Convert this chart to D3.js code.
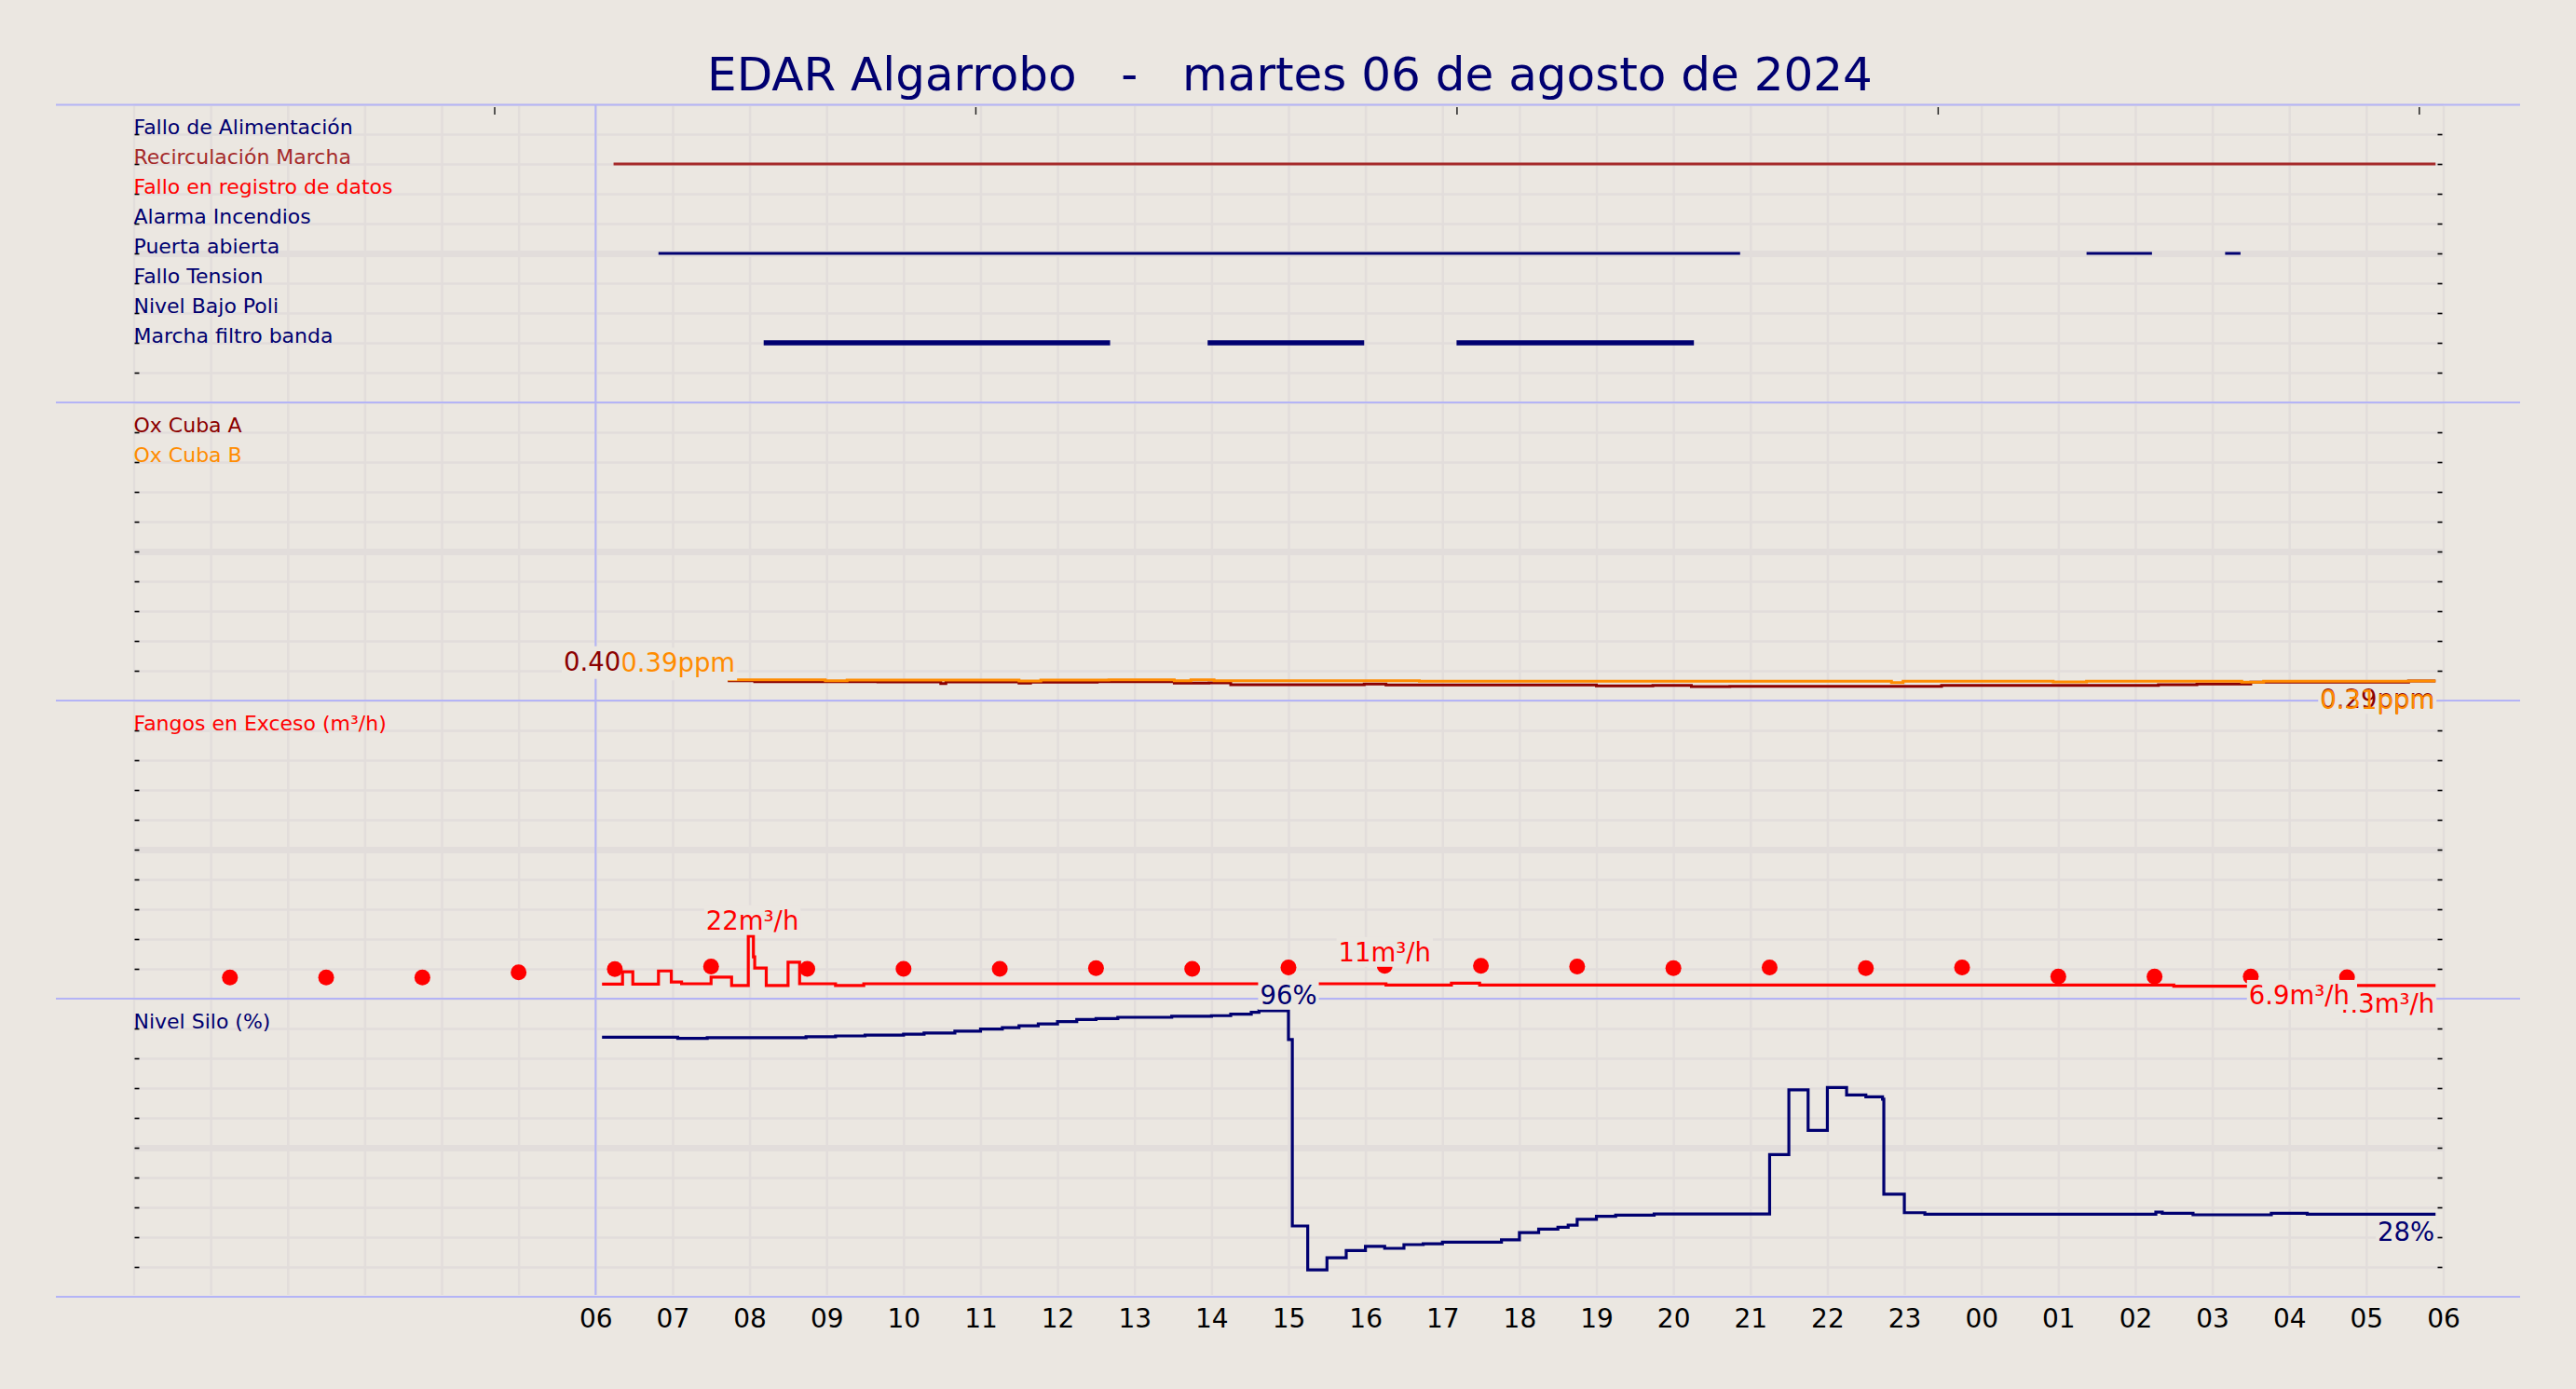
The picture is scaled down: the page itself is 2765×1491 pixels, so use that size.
<!DOCTYPE html>
<html>
<head>
<meta charset="utf-8">
<script src="https://cdn.jsdelivr.net/npm/d3@7"></script>
<style>
  body { margin: 0; background: #ebe7e1; }
  text { font-family: "DejaVu Sans", sans-serif; }
</style>
</head>
<body>
<svg id="chart"></svg>
<script>
// ---- data (times as "HH:MM" counted from 00:00 of 06/08/2024, >24 = next day)
const chartTitle = "EDAR Algarrobo   -   martes 06 de agosto de 2024";

const stateNames = ["Fallo de Alimentación", "Recirculación Marcha", "Fallo en registro de datos",
  "Alarma Incendios", "Puerta abierta", "Fallo Tension", "Nivel Bajo Poli", "Marcha filtro banda"];
const recircOn = [["06:14", "29:54"]];
const puertaOn = [["06:49", "20:52"], ["25:22", "26:13"], ["27:10", "27:22"]];
const filtroOn = [["08:11", "12:41"], ["13:57", "15:59"], ["17:11", "20:16"]];

const oxNames = ["Ox Cuba A", "Ox Cuba B"];
const oxA = [["07:43", 0.367], ["08:04", 0.349], ["09:40", 0.344], ["10:29", 0.315], ["10:33", 0.344],
  ["11:30", 0.321], ["11:39", 0.338], ["12:31", 0.349], ["13:31", 0.321], ["13:58", 0.327],
  ["14:15", 0.292], ["15:59", 0.303], ["16:16", 0.286], ["19:00", 0.269], ["19:44", 0.281],
  ["20:14", 0.258], ["20:44", 0.264], ["23:29", 0.281], ["26:18", 0.292], ["26:48", 0.303],
  ["27:30", 0.338], ["29:33", 0.361], ["29:54", 0.361]];
const oxB = [["07:43", 0.383], ["08:59", 0.366], ["09:16", 0.378], ["11:30", 0.361], ["11:47", 0.378],
  ["12:40", 0.383], ["13:31", 0.366], ["13:44", 0.383], ["14:02", 0.366], ["16:42", 0.355],
  ["22:50", 0.332], ["22:59", 0.355], ["24:56", 0.345], ["25:22", 0.355], ["27:23", 0.338],
  ["27:40", 0.355], ["29:33", 0.361], ["29:54", 0.361]];

const fangosName = "Fangos en Exceso (m³/h)";
const fangos = [["06:05", 4.9], ["06:21", 9.0], ["06:29", 4.9], ["06:49", 9.3], ["06:59", 5.6],
  ["07:07", 5.0], ["07:30", 7.2], ["07:46", 4.4], ["07:59", 21.0], ["08:03", 14.0], ["08:04", 10.3],
  ["08:13", 4.4], ["08:30", 12.2], ["08:39", 5.0], ["09:07", 4.4], ["09:29", 5.0], ["16:16", 4.6],
  ["17:07", 5.2], ["17:29", 4.6], ["26:30", 4.2], ["28:45", 4.4], ["29:54", 4.4]];
const fangosDots = [["01:15", 7.1], ["02:30", 7.1], ["03:45", 7.1], ["05:00", 8.8], ["06:15", 9.9],
  ["07:30", 10.8], ["08:45", 10.0], ["10:00", 10.0], ["11:15", 10.0], ["12:30", 10.2], ["13:45", 10.0],
  ["15:00", 10.5], ["16:15", 11.0], ["17:30", 11.0], ["18:45", 10.8], ["20:00", 10.2], ["21:15", 10.5],
  ["22:30", 10.2], ["23:45", 10.5], ["25:00", 7.4], ["26:15", 7.4], ["27:30", 7.4], ["28:45", 7.2]];

const siloName = "Nivel Silo (%)";
const silo = [["06:05", 87.1], ["07:04", 86.7], ["07:27", 86.9], ["08:44", 87.2], ["09:07", 87.5],
  ["09:30", 87.8], ["10:00", 88.1], ["10:16", 88.5], ["10:40", 89.1], ["11:00", 89.8], ["11:17", 90.3],
  ["11:30", 90.9], ["11:45", 91.5], ["12:00", 92.3], ["12:15", 93.0], ["12:30", 93.3], ["12:47", 93.75],
  ["13:29", 94.1], ["14:00", 94.3], ["14:15", 94.8], ["14:31", 95.4], ["14:37", 96.0], ["15:00", 86.3],
  ["15:03", 23.75], ["15:15", 9.0], ["15:30", 13.1], ["15:45", 15.5], ["16:00", 16.9], ["16:15", 16.25],
  ["16:30", 17.5], ["16:45", 17.8], ["17:00", 18.3], ["17:46", 19.1], ["18:00", 21.5], ["18:15", 22.7],
  ["18:30", 23.3], ["18:38", 24.0], ["18:45", 26.0], ["19:00", 27.0], ["19:15", 27.4], ["19:45", 27.8],
  ["21:15", 47.7], ["21:30", 69.4], ["21:45", 55.8], ["22:00", 70.2], ["22:15", 67.7], ["22:30", 67.1],
  ["22:43", 66.3], ["22:44", 34.4], ["23:00", 28.2], ["23:16", 27.7], ["26:16", 28.4], ["26:21", 28.0],
  ["26:45", 27.5], ["27:46", 28.0], ["28:14", 27.7], ["29:54", 27.7]];

// value labels: [time, value, text]
const oxStartLabels = [["07:43", 0.40, "0.40"], ["07:43", 0.39, "0.39ppm"]];
const oxEndLabels = [["29:54", 0.29, "0.29ppm"], ["29:54", 0.31, "0.31ppm"]];
const fangosLabels = [["08:00", 22, "22m³/h"], ["16:15", 11, "11m³/h"], ["29:54", 4.3, "4.3m³/h"], ["27:27", 6.9, "6.9m³/h"]];
const siloLabels = [["15:00", 96, "96%"], ["29:54", 28, "28%"]];

const topTickTimes = ["04:41", "10:56", "17:11", "23:26", "29:41"];

// ---- styles
const BG = "#ebe7e1", GRID = "#e2dddb", SEP = "#b4b4f6";
const NAVY = "#000070", RED = "#ff0000", DARKRED = "#8b0000", ORANGE = "#ff8c00", BROWN = "#a52a2a";
const stateColors = [NAVY, BROWN, RED, NAVY, NAVY, NAVY, NAVY, NAVY];

const W = 2765, H = 1491;
const x0 = 143.5, x1 = 2622.5;
const day0 = new Date(2024, 7, 6, 0, 0);
function t(s) {
  const [h, m] = s.split(":").map(Number);
  return d3.timeMinute.offset(day0, h * 60 + m);
}

const x = d3.scaleTime()
  .domain([day0, d3.timeHour.offset(day0, 30)])
  .range([x0, x1]);

const yState = d3.scaleLinear().domain([0, 10]).range([432, 112]);
const yOx = d3.scaleLinear().domain([0, 5.5]).range([752, 432]);
const yFan = d3.scaleLinear().domain([0, 100]).range([1072, 752]);
const ySilo = d3.scaleLinear().domain([0, 100]).range([1392, 1072]);
const panels = [yState, yOx, yFan, ySilo];

const svg = d3.select("#chart").attr("width", W).attr("height", H);
svg.append("rect").attr("width", W).attr("height", H).attr("fill", BG);

// title
svg.append("text")
  .attr("x", W / 2 + 2)
  .attr("y", 97)
  .attr("text-anchor", "middle")
  .style("white-space", "pre")
  .attr("font-size", 50)
  .attr("fill", NAVY)
  .text(chartTitle);

// vertical hourly grid
svg.append("g")
  .attr("transform", `translate(0, 1390)`)
  .call(d3.axisBottom(x).ticks(d3.timeHour.every(1)).tickSize(-(1390 - 114)).tickFormat(""))
  .call(g => g.select(".domain").remove())
  .selectAll("line")
  .attr("stroke", GRID)
  .attr("stroke-width", 2.5);

// horizontal grid + small ticks per panel
function divisions(scale, from, to) {
  const [a, b] = scale.domain();
  return d3.range(from, to + 1).map(k => a + k * (b - a) / 10);
}

panels.forEach(scale => {
  svg.append("g")
    .attr("transform", `translate(${x0}, 0)`)
    .call(d3.axisRight(scale).tickValues(divisions(scale, 1, 10)).tickSize(x1 - x0).tickFormat(""))
    .call(g => g.select(".domain").remove())
    .selectAll("line")
    .attr("stroke", GRID)
    .attr("stroke-width", (d, i) => i === 4 ? 7 : 2.7);

  svg.append("g")
    .attr("transform", `translate(${x0 + 1}, 0)`)
    .call(d3.axisRight(scale).tickValues(divisions(scale, 1, 9)).tickSize(5).tickFormat(""))
    .call(g => g.select(".domain").remove())
    .selectAll("line")
    .attr("stroke", "#000")
    .attr("stroke-width", 1.6);

  svg.append("g")
    .attr("transform", `translate(${x1 - 1}, 0)`)
    .call(d3.axisLeft(scale).tickValues(divisions(scale, 1, 9)).tickSize(5).tickFormat(""))
    .call(g => g.select(".domain").remove())
    .selectAll("line")
    .attr("stroke", "#000")
    .attr("stroke-width", 1.6);
});

// panel separators
const sepYs = [112.5].concat(panels.map(s => s.range()[0]));
svg.append("g")
  .selectAll("line")
  .data(sepYs)
  .join("line")
  .attr("x1", 60).attr("x2", 2705)
  .attr("y1", d => d).attr("y2", d => d)
  .attr("stroke", SEP)
  .attr("stroke-width", 2);

svg.append("line")
  .attr("x1", x(t("06:00"))).attr("x2", x(t("06:00")))
  .attr("y1", 113).attr("y2", 1390)
  .attr("stroke", SEP)
  .attr("stroke-width", 2);

// top ticks
svg.append("g")
  .attr("transform", "translate(0, 115)")
  .call(d3.axisBottom(x).tickValues(topTickTimes.map(t)).tickSize(8).tickFormat(""))
  .call(g => g.select(".domain").remove())
  .selectAll("line")
  .attr("stroke", "#222")
  .attr("stroke-width", 1.5);

// bottom time axis
svg.append("g")
  .attr("transform", "translate(0, 1392)")
  .call(d3.axisBottom(x)
    .tickValues(d3.timeHour.range(t("06:00"), d3.timeMinute.offset(t("30:00"), 1)))
    .tickFormat(d3.timeFormat("%H"))
    .tickSize(0)
    .tickPadding(13))
  .call(g => g.select(".domain").remove())
  .selectAll("text")
  .attr("font-family", "DejaVu Sans")
  .attr("font-size", 28)
  .attr("fill", "#000");

// ---- state panel
const stateRows = [
  { row: 1, spans: recircOn, width: 3 },
  { row: 4, spans: puertaOn, width: 3 },
  { row: 7, spans: filtroOn, width: 5.5 }
];
stateRows.forEach(r => {
  svg.append("g")
    .selectAll("line")
    .data(r.spans)
    .join("line")
    .attr("x1", d => x(t(d[0])))
    .attr("x2", d => x(t(d[1])))
    .attr("y1", yState(9 - r.row))
    .attr("y2", yState(9 - r.row))
    .attr("stroke", stateColors[r.row])
    .attr("stroke-width", r.width);
});

svg.append("g")
  .selectAll("text")
  .data(stateNames)
  .join("text")
  .attr("x", x0)
  .attr("y", (d, i) => yState(9 - i))
  .attr("font-size", 22)
  .attr("fill", (d, i) => stateColors[i])
  .text(d => d);

// ---- step lines
function stepLine(scale) {
  return d3.line()
    .x(d => x(t(d[0])))
    .y(d => scale(d[1]))
    .curve(d3.curveStepAfter);
}

svg.append("path").datum(oxA)
  .attr("d", stepLine(yOx)).attr("fill", "none").attr("stroke", DARKRED).attr("stroke-width", 3);
svg.append("path").datum(oxB)
  .attr("d", stepLine(yOx)).attr("fill", "none").attr("stroke", ORANGE).attr("stroke-width", 3);

svg.append("g")
  .selectAll("text")
  .data(oxNames)
  .join("text")
  .attr("x", x0)
  .attr("y", (d, i) => yOx.range()[1] + 32 * (i + 1))
  .attr("font-size", 22)
  .attr("fill", (d, i) => i === 0 ? DARKRED : ORANGE)
  .text(d => d);

svg.append("path").datum(fangos)
  .attr("d", stepLine(yFan)).attr("fill", "none").attr("stroke", RED).attr("stroke-width", 3.2);

svg.append("g")
  .selectAll("circle")
  .data(fangosDots)
  .join("circle")
  .attr("cx", d => x(t(d[0])))
  .attr("cy", d => yFan(d[1]))
  .attr("r", 8.5)
  .attr("fill", RED);

svg.append("text")
  .attr("x", x0)
  .attr("y", yFan.range()[1] + 32)
  .attr("font-size", 22)
  .attr("fill", RED)
  .text(fangosName);

svg.append("path").datum(silo)
  .attr("d", stepLine(ySilo)).attr("fill", "none").attr("stroke", NAVY).attr("stroke-width", 3.2);

svg.append("text")
  .attr("x", x0)
  .attr("y", ySilo.range()[1] + 32)
  .attr("font-size", 22)
  .attr("fill", NAVY)
  .text(siloName);

// ---- value labels with a background box
function addLabel(px, py, txt, color, anchor, box, padB, padR) {
  const g = svg.append("g");
  const r = g.append("rect").attr("fill", BG);
  const tx = g.append("text")
    .attr("x", px)
    .attr("y", py)
    .attr("text-anchor", anchor)
    .attr("font-size", 27.5)
    .attr("fill", color)
    .text(txt);
  const bb = tx.node().getBBox();
  if (box) {
    r.attr("x", bb.x - 2).attr("y", bb.y)
      .attr("width", bb.width + 4 + (padR || 0))
      .attr("height", bb.height + (padB || 0));
  } else {
    r.remove();
  }
  return tx;
}

const oxStartX = x(t(oxStartLabels[1][0])) + 8;
const orangeStart = addLabel(oxStartX, yOx(oxStartLabels[1][1]) - 8, oxStartLabels[1][2], ORANGE, "end", true, 3);
const darkStartX = orangeStart.node().getBBox().x;
addLabel(darkStartX, yOx(oxStartLabels[0][1]) - 9, oxStartLabels[0][2], DARKRED, "end", true, 3);

const oxEndX = x(t(oxEndLabels[0][0])) - 1;
addLabel(oxEndX, yOx(oxEndLabels[0][1]) + 25, oxEndLabels[0][2], DARKRED, "end", true, 0);
addLabel(oxEndX, yOx(oxEndLabels[1][1]) + 27, oxEndLabels[1][2], ORANGE, "end", false, 0);

addLabel(x(t(fangosLabels[0][0])) + 3, yFan(fangosLabels[0][1]) - 4, fangosLabels[0][2], RED, "middle", true, 0);
addLabel(x(t(fangosLabels[1][0])), yFan(fangosLabels[1][1]) - 5, fangosLabels[1][2], RED, "middle", true, 0);
addLabel(x(t(fangosLabels[2][0])) - 1, yFan(fangosLabels[2][1]) + 29, fangosLabels[2][2], RED, "end", true, 0);
addLabel(x(t(fangosLabels[3][0])) + 2, yFan(fangosLabels[3][1]) + 28, fangosLabels[3][2], RED, "start", true, 0, 6);

addLabel(x(t(siloLabels[0][0])), ySilo(siloLabels[0][1]) - 7, siloLabels[0][2], NAVY, "middle", true, 0);
addLabel(x(t(siloLabels[1][0])) - 1, ySilo(siloLabels[1][1]) + 30, siloLabels[1][2], NAVY, "end", true, 0);
</script>
</body>
</html>
